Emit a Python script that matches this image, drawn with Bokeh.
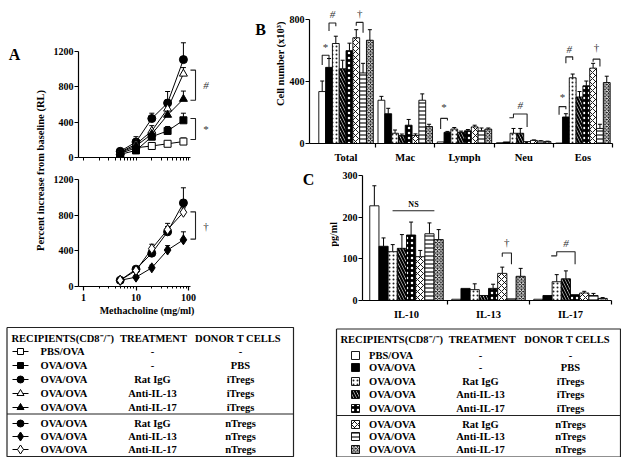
import math
from bokeh.plotting import figure
from bokeh.models import (Range1d, FixedTicker, NumeralTickFormatter, Whisker, TeeHead,
                          ColumnDataSource)
from bokeh.layouts import row, column
from bokeh.embed import file_html
from bokeh.resources import INLINE
from bokeh.core.properties import value

FONT = "Liberation Serif"

# ---------------- Panel A data (percent increase from baseline, RL) ----------------
doses = [5, 10, 20, 40, 80]
a_pbs_ova = [45, 110, 130, 155, 180]
a_pbs_ova_err = [15, 20, 20, 25, 40]
a_ova_ova = [35, 80, 235, 300, 420]
a_ova_ova_err = [15, 25, 40, 50, 80]
a_igg_i = [70, 175, 440, 615, 1105]
a_igg_i_err = [20, 60, 60, 130, 190]
a_il13_i = [60, 150, 300, 550, 945]
a_il13_i_err = [15, 40, 60, 100, 70]
a_il17_i = [55, 130, 265, 480, 660]
a_il17_i_err = [15, 30, 40, 60, 90]

a_igg_n = [70, 195, 375, 615, 940]
a_igg_n_err = [15, 30, 40, 60, 170]
a_il13_n = [70, 105, 210, 410, 525]
a_il13_n_err = [10, 20, 30, 50, 90]
a_il17_n = [70, 180, 425, 640, 835]
a_il17_n_err = [10, 20, 50, 70, 50]

a_ticks_y = [0, 400, 800, 1200]
a_ticks_x = [1, 10, 100]
a_top_sig = [(986, 647, "#"), (441, 203, "*")]
a_bot_sig = [(839, 533, "†")]

# ---------------- Panel B data (cell number x10^3) ----------------
b_cats = ["Total", "Mac", "Lymph", "Neu", "Eos"]
b_pbs_ova = [335, 279, 10, 5, 3]
b_pbs_ova_err = [68, 25, 0, 0, 0]
b_ova_ova = [491, 192, 72, 10, 171]
b_ova_ova_err = [57, 35, 6, 0, 21]
b_igg_i = [645, 66, 93, 66, 424]
b_igg_i_err = [47, 21, 10, 31, 24]
b_il13_i = [482, 51, 72, 66, 300]
b_il13_i_err = [55, 10, 8, 31, 35]
b_il17_i = [599, 118, 82, 12, 372]
b_il17_i_err = [48, 37, 8, 0, 31]
b_igg_n = [682, 52, 107, 20, 486]
b_igg_n_err = [52, 10, 11, 3, 31]
b_il13_n = [455, 279, 82, 15, 97]
b_il13_n_err = [62, 41, 18, 3, 27]
b_il17_n = [666, 109, 93, 12, 393]
b_il17_n_err = [68, 15, 7, 3, 41]
b_ticks_y = [0, 400, 800]
# (category, left bar, right bar, top, left leg end, right leg end, symbol, symbol y, stub)
b_sig = [
    (0, 0, 1, 569, 507, 549, "*", 623, False),
    (0, 1, 2, 777, 725, 756, "#", 835, False),
    (0, 5, 6, 781, 760, 715, "†", 839, False),
    (2, 0, 1, 162, 93, 149, "*", 237, False),
    (3, 2, 4, 190, 166, 107, "#", 249, True),
    (4, 0, 1, 238, 186, 221, "*", 300, False),
    (4, 1, 2, 559, 518, 538, "#", 611, False),
    (4, 5, 6, 544, 528, 497, "†", 622, False),
]

# ---------------- Panel C data (pg/ml) ----------------
c_cats = ["IL-10", "IL-13", "IL-17"]
c_pbs_ova = [227, 3, 3]
c_pbs_ova_err = [48, 0, 0]
c_ova_ova = [130, 29, 12]
c_ova_ova_err = [20, 0, 0]
c_igg_i = [117, 26, 45]
c_igg_i_err = [17, 14, 17]
c_il13_i = [125, 12, 52]
c_il13_i_err = [33, 0, 19]
c_il17_i = [157, 29, 14]
c_il17_i_err = [31, 10, 0]
c_igg_n = [105, 65, 18]
c_igg_n_err = [15, 15, 4]
c_il13_n = [160, 4, 12]
c_il13_n_err = [26, 0, 5]
c_il17_n = [146, 58, 5]
c_il17_n_err = [24, 19, 2]
c_ticks_y = [0, 100, 200, 300]
c_ns = (0.83, 1.34, 215, "NS")
c_sig = [
    (1, 5, 6, 114, 105, 87, "†", 141, False),
    (2, 2, 4, 117, 107, 87, "#", 137, True),
]

# ---------------- legend table ----------------
leg_recipients = ["PBS/OVA", "OVA/OVA", "OVA/OVA", "OVA/OVA", "OVA/OVA", "OVA/OVA", "OVA/OVA", "OVA/OVA"]
leg_treatment = ["-", "-", "Rat IgG", "Anti-IL-13", "Anti-IL-17", "Rat IgG", "Anti-IL-13", "Anti-IL-17"]
leg_donor = ["-", "PBS", "iTregs", "iTregs", "iTregs", "nTregs", "nTregs", "nTregs"]
leg_header = ["RECIPIENTS(CD8\u207b/\u207b)", "TREATMENT", "DONOR T CELLS"]

# ---------------- styles ----------------
a_top_series = [
    (a_pbs_ova, a_pbs_ova_err, "square", "white", 7),
    (a_ova_ova, a_ova_ova_err, "square", "black", 7),
    (a_igg_i, a_igg_i_err, "circle", "black", 8),
    (a_il13_i, a_il13_i_err, "triangle", "white", 8),
    (a_il17_i, a_il17_i_err, "triangle", "black", 8),
]
a_bot_series = [
    (a_igg_n, a_igg_n_err, "circle", "black", 8),
    (a_il13_n, a_il13_n_err, "diamond", "black", 10),
    (a_il17_n, a_il17_n_err, "diamond", "white", 10),
]
leg_markers = [("square", "white", 7), ("square", "black", 7), ("circle", "black", 8),
               ("triangle", "white", 8), ("triangle", "black", 8),
               ("circle", "black", 8), ("diamond", "black", 10), ("diamond", "white", 10)]

BAR_STYLES = [
    dict(fill_color="white"),
    dict(fill_color="black"),
    dict(fill_color="white", hatch_pattern="dot", hatch_color="#222", hatch_weight=1.0, hatch_scale=4),
    dict(fill_color="white", hatch_pattern="left_diagonal_line", hatch_color="black", hatch_weight=2.2, hatch_scale=6),
    dict(fill_color="black", hatch_pattern="dot", hatch_color="white", hatch_weight=1.6, hatch_scale=5),
    dict(fill_color="white", hatch_pattern="diagonal_cross", hatch_color="black", hatch_weight=0.9, hatch_scale=6),
    dict(fill_color="white", hatch_pattern="horizontal_line", hatch_color="black", hatch_weight=1.1, hatch_scale=4),
    dict(fill_color="#111", hatch_pattern="diagonal_cross", hatch_color="white", hatch_weight=0.9, hatch_scale=3.5),
]

SYM_KW = dict(text_font=value(FONT), text_font_size="11px", text_align="center",
              text_baseline="middle", text_color="#333")


def base_fig(w, h, xr, yr, bl, br, bt, bb, **kw):
    p = figure(width=w, height=h, x_range=xr, y_range=yr, output_backend="svg",
               toolbar_location=None, min_border_left=bl, min_border_right=br,
               min_border_top=bt, min_border_bottom=bb, **kw)
    p.outline_line_color = None
    p.grid.visible = False
    p.background_fill_color = "white"
    p.border_fill_color = "white"
    return p


def strip_fig(x0, x1, y0, y1):
    """Blank figure whose data units are page pixels (y downward)."""
    return base_fig(int(round(x1 - x0)), int(round(y1 - y0)), Range1d(x0, x1), Range1d(y1, y0),
                    0, 0, 0, 0, x_axis_location=None, y_axis_location=None)


def style_axis(ax, size="10px"):
    ax.axis_line_color = "black"
    ax.axis_line_width = 1.2
    ax.major_tick_line_color = "black"
    ax.major_tick_line_width = 1.2
    ax.major_tick_out = 4
    ax.major_tick_in = 0
    ax.minor_tick_line_color = None
    ax.major_label_text_font = FONT
    ax.major_label_text_font_style = "bold"
    ax.major_label_text_font_size = size
    ax.major_label_text_color = "black"
    ax.axis_label_text_font = FONT
    ax.axis_label_text_font_style = "bold"
    ax.axis_label_text_font_size = size
    ax.axis_label_text_color = "black"


def whiskers(p, xs, lows, errs, head=4):
    bx, lo, up = [], [], []
    for x, v, e in zip(xs, lows, errs):
        if e > 0:
            bx.append(x)
            lo.append(v)
            up.append(v + e)
    src = ColumnDataSource(dict(base=bx, lower=lo, upper=up))
    w = Whisker(source=src, base="base", lower="lower", upper="upper", dimension="height",
                line_color="black", line_width=1,
                upper_head=TeeHead(size=head, line_color="black", line_width=1), lower_head=None)
    w.level = "underlay"
    p.add_layout(w)


# ---------------- Panel A ----------------
A_PX_DEC = 52.5
A_X0 = 10 ** (-5 / A_PX_DEC)
A_X1 = 10 ** (132 / A_PX_DEC)
A_MINOR = [2, 3, 4, 5, 6, 7, 8, 9, 20, 30, 40, 50, 60, 70, 80, 90]


def panel_a(height, bt, bb, frame_h, px_per_unit, series, sig, show_labels):
    p = base_fig(192, height, Range1d(A_X0, A_X1), Range1d(0, frame_h / px_per_unit),
                 30, 25, bt, bb, x_axis_type="log")
    style_axis(p.xaxis[0])
    style_axis(p.yaxis[0])
    p.yaxis.ticker = FixedTicker(ticks=a_ticks_y)
    p.yaxis.bounds = (0, 1200)
    p.yaxis.major_label_standoff = 1
    p.xaxis.minor_tick_line_color = "black"
    p.xaxis.minor_tick_out = 2
    p.xaxis.minor_tick_in = 0
    p.xaxis.bounds = (A_X0, 109)
    if show_labels:
        p.xaxis.ticker = FixedTicker(ticks=a_ticks_x, minor_ticks=A_MINOR)
        p.xaxis.formatter = NumeralTickFormatter(format="0")
        p.xaxis.major_label_standoff = 3
        p.xaxis.axis_label = "Methacholine (mg/ml)"
        p.xaxis.axis_label_standoff = 1
    else:
        p.xaxis.ticker = FixedTicker(ticks=[], minor_ticks=sorted(A_MINOR + a_ticks_x))
        p.xaxis.minor_tick_out = 3
    for vals, errs, mk, fill, sz in series:
        whiskers(p, doses, vals, errs, head=5)
        p.line(doses, vals, line_color="black", line_width=1)
        p.scatter(doses, vals, marker=mk, size=sz, fill_color=fill, line_color="black", line_width=1)
    for top, bot, sym in sig:
        p.multi_line(xs=[[109, 136, 136, 109]], ys=[[top, top, bot, bot]], line_color="#222", line_width=1.1)
        p.text(x=[215], y=[(top + bot) / 2], text=[sym],
               text_font_style="italic" if sym == "#" else "normal", **SYM_KW)
    return p


pA_top = panel_a(166, 40, 9, 117, 106.3 / 1200, a_top_series, a_top_sig, False)
pA_bot = panel_a(156, 6, 36, 114, 106.7 / 1200, a_bot_series, a_bot_sig, True)

# label strip for A (page pixel units)
pA_lab = strip_fig(0, 48, 0, 322)
pA_lab.text(x=[14], y=[54], text=["A"], text_font=value(FONT), text_font_style="bold",
            text_font_size="16px", text_align="center", text_baseline="middle")
pA_lab.text(x=[40], y=[170], text=["Percent increase from baseline (RL)"], angle=math.pi / 2,
            text_font=value(FONT), text_font_style="bold", text_font_size="10.5px",
            text_align="center", text_baseline="middle")


# ---------------- bar panels ----------------
def bar_panel(w, h, bl, br, bt, bb, x0, x1, frame_h, px_per_unit, cats, vals_list, errs_list,
              bw, yticks, ybound, sig, lab_size):
    p = base_fig(w, h, Range1d(x0, x1), Range1d(0, frame_h / px_per_unit), bl, br, bt, bb)
    style_axis(p.xaxis[0], lab_size)
    style_axis(p.yaxis[0])
    n = len(cats)
    p.xaxis.ticker = FixedTicker(ticks=list(range(1, n + 1)),
                                 minor_ticks=[i + 0.5 for i in range(1, n + 1)])
    p.xaxis.major_label_overrides = {i + 1: c for i, c in enumerate(cats)}
    p.xaxis.major_tick_out = 0
    p.xaxis.major_label_standoff = 4
    p.xaxis.minor_tick_line_color = "black"
    p.xaxis.minor_tick_line_width = 1.2
    p.xaxis.minor_tick_out = 4
    p.xaxis.minor_tick_in = 0
    p.xaxis.bounds = (x0, n + 0.5)
    p.yaxis.ticker = FixedTicker(ticks=yticks)
    p.yaxis.bounds = ybound
    p.yaxis.major_label_standoff = 1
    for j, (vals, errs) in enumerate(zip(vals_list, errs_list)):
        xs = [i + 1 + (j - 3.5) * bw for i in range(n)]
        p.vbar(x=xs, top=vals, bottom=0, width=bw, line_color="black", line_width=0.9,
               **BAR_STYLES[j])
        whiskers(p, xs, vals, errs, head=4)
    for cat, j0, j1, top, l_end, r_end, sym, sy, stub in sig:
        xl = cat + 1 + (j0 - 3.5) * bw
        xr = cat + 1 + (j1 - 3.5) * bw
        p.multi_line(xs=[[xl, xl, xr, xr]], ys=[[l_end, top, top, r_end]],
                     line_color="#222", line_width=1.1)
        if stub:
            p.multi_line(xs=[[xl - 0.6 * bw, xl]], ys=[[l_end, l_end]], line_color="#222", line_width=1.1)
        p.text(x=[(xl + xr) / 2], y=[sy], text=[sym],
               text_font_style="italic" if sym == "#" else "normal", **SYM_KW)
    return p


B_PX = 59.8
pB = bar_panel(335, 165, 20, 7, 10, 17, 0.383, 0.383 + 308 / B_PX, 138, 128.7 / 800, b_cats,
               [b_pbs_ova, b_ova_ova, b_igg_i, b_il13_i, b_il17_i, b_igg_n, b_il13_n, b_il17_n],
               [b_pbs_ova_err, b_ova_ova_err, b_igg_i_err, b_il13_i_err, b_il17_i_err,
                b_igg_n_err, b_il13_n_err, b_il17_n_err],
               0.115, b_ticks_y, (0, 800), b_sig, "10.5px")
pB_lab = strip_fig(240, 286, 0, 165)
pB_lab.text(x=[260], y=[23], text=["B"], text_font=value(FONT), text_font_style="bold",
            text_font_size="16px", text_align="center", text_baseline="middle")
pB_lab.text(x=[280], y=[66], text=["Cell number (x10\u00b3)"], angle=math.pi / 2,
            text_font=value(FONT), text_font_style="bold", text_font_size="10.5px",
            text_align="center", text_baseline="middle")

C_PX = 82.0
pC = bar_panel(282, 157, 23, 7, 5, 18, 0.4634, 0.4634 + 252 / C_PX, 134, 0.43, c_cats,
               [c_pbs_ova, c_ova_ova, c_igg_i, c_il13_i, c_il17_i, c_igg_n, c_il13_n, c_il17_n],
               [c_pbs_ova_err, c_ova_ova_err, c_igg_i_err, c_il13_i_err, c_il17_i_err,
                c_igg_n_err, c_il13_n_err, c_il17_n_err],
               0.112, c_ticks_y, (0, 300), c_sig, "10.5px")
nx0, nx1, ny, ntxt = c_ns
pC.multi_line(xs=[[nx0, nx1]], ys=[[ny, ny]], line_color="#222", line_width=1.1)
pC.text(x=[(nx0 + nx1) / 2], y=[ny + 15], text=[ntxt], text_font=value(FONT), text_font_size="8px",
        text_font_style="bold", text_align="center", text_baseline="middle")
pC_lab = strip_fig(240, 339, 165, 322)
pC_lab.text(x=[308], y=[176], text=["C"], text_font=value(FONT), text_font_style="bold",
            text_font_size="16px", text_align="center", text_baseline="middle")
pC_lab.text(x=[333], y=[242], text=["pg/ml"], angle=math.pi / 2,
            text_font=value(FONT), text_font_style="bold", text_font_size="10px",
            text_align="center", text_baseline="middle")


# ---------------- legend tables ----------------
def legend_fig(x0, x1, box, sep_y, header_y, rows_y, col_rec, col_trt, col_don,
               head_x, head_trt, head_don):
    p = strip_fig(x0, x1, 322, 457)
    bx0, bx1, by0, by1 = box
    p.multi_line(xs=[[bx0, bx1, bx1, bx0, bx0], [bx0, bx1]], ys=[[by0, by0, by1, by1, by0], [sep_y, sep_y]],
                 line_color="#222", line_width=1.2)
    tkw = dict(text_font=value(FONT), text_font_style="bold", text_font_size="10.5px",
               text_baseline="middle", text_color="black")
    p.text(x=[head_x], y=[header_y], text=[leg_header[0]], text_align="left", **tkw)
    p.text(x=[head_trt, head_don], y=[header_y, header_y], text=leg_header[1:], text_align="center", **tkw)
    p.text(x=[col_rec] * len(rows_y), y=rows_y, text=leg_recipients, text_align="left", **tkw)
    p.text(x=[col_trt] * len(rows_y), y=rows_y, text=leg_treatment, text_align="center", **tkw)
    p.text(x=[col_don] * len(rows_y), y=rows_y, text=leg_donor, text_align="center", **tkw)
    return p


rowsA = [351 + 14 * i for i in range(5)] + [423 + 13 * k for k in range(3)]
pLegA = legend_fig(0, 315, (6.5, 293, 327, 456), 413.5, 337.5, rowsA, 40, 152, 240, 11, 153, 237.5)
for ry, (mk, fill, sz) in zip(rowsA, leg_markers):
    pLegA.line([12, 28], [ry, ry], line_color="black", line_width=1)
    pLegA.scatter([20], [ry], marker=mk, size=sz - 1, fill_color=fill, line_color="black", line_width=1)

rowsC = [355, 367, 381, 394, 408, 424, 436, 449]
pLegC = legend_fig(315, 621, (336, 620, 328.5, 456.5), 415, 338.5, rowsC, 368.5, 480, 570,
                   340, 481.7, 566.7)
for j, ry in enumerate(rowsC):
    pLegC.rect(x=[355], y=[ry], width=8, height=8, line_color="black", line_width=0.9, **BAR_STYLES[j])

layout = column(
    row(row(pA_lab, column(pA_top, pA_bot)),
        column(row(pB_lab, pB), row(pC_lab, pC))),
    row(pLegA, pLegC),
)

with open("out.html", "w") as f:
    f.write(file_html(layout, INLINE))
